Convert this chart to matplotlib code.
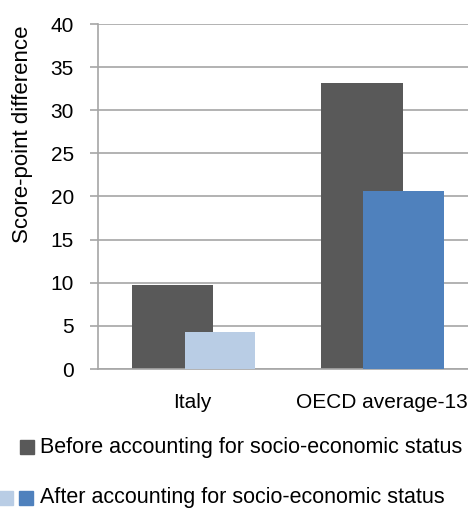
import matplotlib
matplotlib.use("Agg")
import matplotlib.pyplot as plt
from matplotlib.patches import Rectangle

plt.rcParams['font.family'] = ['Liberation Sans Narrow', 'Liberation Sans', 'DejaVu Sans']

# data
categories = ["Italy", "OECD average-13"]
before = [9.7, 33.2]
after = [4.3, 20.6]
after_colors = ["#b9cde5", "#4f81bd"]
dark = "#595959"
grid_col = "#a6a6a6"

W, H = 468, 511
fig = plt.figure(figsize=(W / 100, H / 100), dpi=100)
ax = fig.add_axes([97.5 / W, (H - 369) / H, 379 / W, 345 / H])

x = range(len(categories))
ax.bar([i - 0.32 for i in x], before, width=0.43, align='edge', color=dark, zorder=2)
# the Italy "after" bar is a bit narrower than the others
after_left = [-0.04, -0.10]
after_width = [0.37, 0.43]
ax.bar([i + o for i, o in zip(x, after_left)], after, width=after_width,
       align='edge', color=after_colors, zorder=3)

ax.set_xlim(-0.5, 1.5)
ax.set_ylim(0, 40)
ax.set_yticks(range(0, 41, 5))
ax.set_xticks(list(x))
ax.set_xticklabels(categories)
ax.yaxis.grid(True, color=grid_col, linewidth=1.2, zorder=0)
ax.set_axisbelow(True)
for s in ['top', 'right']:
    ax.spines[s].set_visible(False)
for s in ['left', 'bottom']:
    ax.spines[s].set_color(grid_col)
    ax.spines[s].set_linewidth(1.2)
ax.tick_params(axis='y', length=6, width=1.2, color=grid_col, pad=11, labelsize=15)
ax.tick_params(axis='x', length=0, pad=17, labelsize=15)

fig.text(23 / W, 1 - 134 / H, "Score-point difference", rotation=90,
         ha='center', va='center', fontsize=16)

# legend drawn by hand
def sq(x0, y0, c):
    fig.patches.append(Rectangle((x0 / W, 1 - (y0 + 14) / H), 14 / W, 14 / H,
                                 transform=fig.transFigure, color=c, figure=fig))

sq(20, 440, dark)
fig.text(40 / W, 1 - 447 / H, "Before accounting for socio-economic status",
         ha='left', va='center', fontsize=15.5)
sq(-1, 491, after_colors[0])
sq(19, 491, after_colors[1])
fig.text(40 / W, 1 - 497 / H, "After accounting for socio-economic status",
         ha='left', va='center', fontsize=15.5)

fig.savefig("out.png", dpi=100)
